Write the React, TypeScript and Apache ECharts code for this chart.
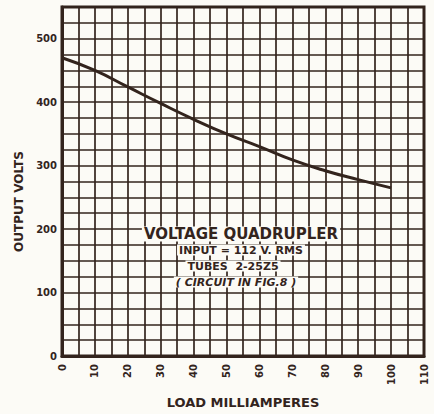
import React, { useEffect, useRef } from "react";
import * as echarts from "echarts";

const loadMa = [0, 10, 20, 30, 40, 50, 60, 70, 80, 90, 100];
const outputVolts = [470, 450, 424, 398, 373, 350, 330, 309, 292, 278, 265];
const xTickLabels = ["0", "10", "20", "30", "40", "50", "60", "70", "80", "90", "100", "110"];
const yTickLabels = ["0", "100", "200", "300", "400", "500"];
const noteLines = ["VOLTAGE QUADRUPLER", "INPUT = 112 V. RMS", "TUBES  2-25Z5", "( CIRCUIT IN FIG.8 )"];

const INK = "#33241d";
const PAPER = "#fcfbf6";

export default function App() {
  const ref = useRef<HTMLDivElement>(null);
  useEffect(() => {
    if (!ref.current) return;
    const chart = echarts.init(ref.current, undefined, { renderer: "svg" });
    const font = "'DejaVu Sans', sans-serif";
    const noteStyle = (size: number, italic = false) => ({
      fill: INK,
      font: `${italic ? "italic " : ""}bold ${size}px ${font}`,
      textAlign: "center",
      textVerticalAlign: "middle",
      backgroundColor: PAPER,
      padding: [0, 2],
    });
    chart.setOption({
      animation: false,
      backgroundColor: PAPER,
      grid: {
        left: 62,
        top: 7,
        width: 362,
        height: 356,
        show: true,
        borderColor: INK,
        borderWidth: 3,
        backgroundColor: "transparent",
      },
      xAxis: {
        type: "value",
        min: 0,
        max: 110,
        interval: 5,
        name: "LOAD MILLIAMPERES",
        nameLocation: "middle",
        nameGap: 40,
        nameTextStyle: { color: INK, fontFamily: font, fontWeight: "bold", fontSize: 13 },
        axisLine: { show: true, lineStyle: { color: INK, width: 3 } },
        axisTick: { show: false },
        axisLabel: {
          rotate: 90,
          margin: 8,
          color: INK,
          fontFamily: font,
          fontWeight: "bold",
          fontSize: 10,
          formatter: (v: number) => (xTickLabels.includes(String(v)) ? String(v) : ""),
        },
        splitLine: { show: true, lineStyle: { color: INK, width: 1.7 } },
      },
      yAxis: {
        type: "value",
        min: 0,
        max: 550,
        interval: 25,
        name: "OUTPUT VOLTS",
        nameLocation: "middle",
        nameGap: 32,
        nameRotate: 90,
        nameTextStyle: {
          color: INK,
          fontFamily: font,
          fontWeight: "bold",
          fontSize: 12,
          padding: [0, 40, 0, 0],
        },
        axisLine: { show: true, lineStyle: { color: INK, width: 3 } },
        axisTick: { show: false },
        axisLabel: {
          margin: 5,
          color: INK,
          fontFamily: font,
          fontWeight: "bold",
          fontSize: 10,
          formatter: (v: number) => (yTickLabels.includes(String(v)) ? String(v) : ""),
        },
        splitLine: { show: true, lineStyle: { color: INK, width: 1.7 } },
      },
      series: [
        {
          type: "line",
          data: loadMa.map((x, i) => [x, outputVolts[i]]),
          smooth: true,
          showSymbol: false,
          lineStyle: { color: INK, width: 3 },
          z: 3,
        },
      ],
      graphic: [
        { type: "text", x: 241, y: 234, z: 10, style: { text: noteLines[0], ...noteStyle(15) } },
        { type: "text", x: 241, y: 250, z: 10, style: { text: noteLines[1], ...noteStyle(11) } },
        { type: "text", x: 233, y: 266, z: 10, style: { text: noteLines[2], ...noteStyle(11) } },
        { type: "text", x: 236, y: 282, z: 10, style: { text: noteLines[3], ...noteStyle(11, true) } },
      ],
    });
    return () => chart.dispose();
  }, []);
  return (
    <div
      ref={ref}
      style={{ position: "fixed", left: 0, top: 0, width: 434, height: 414 }}
    />
  );
}
